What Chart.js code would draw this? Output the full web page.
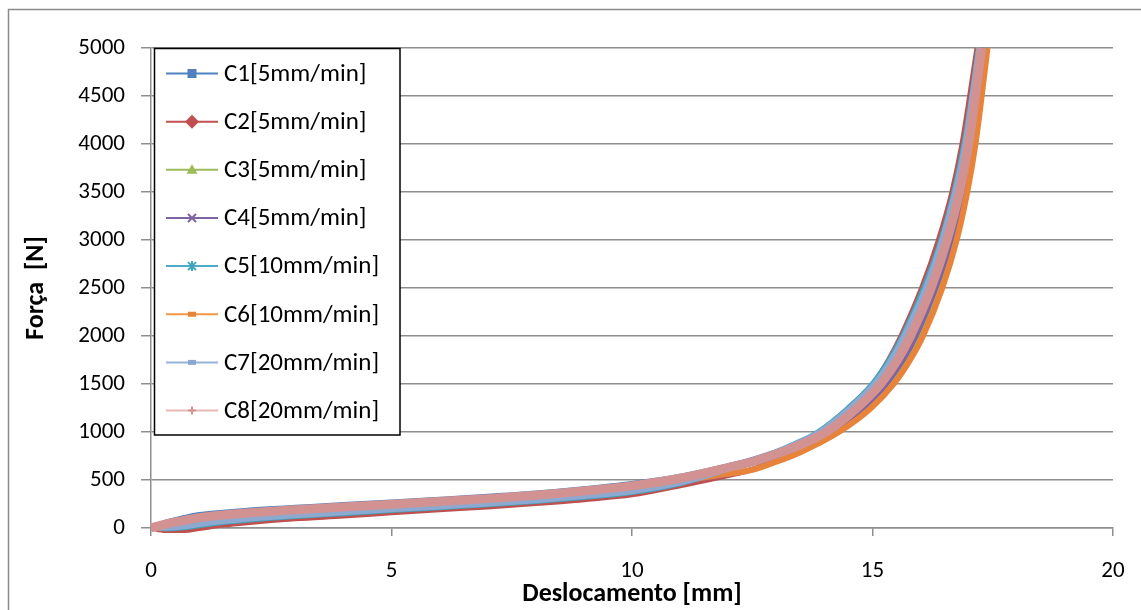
<!DOCTYPE html>
<html>
<head>
<meta charset="utf-8">
<script src="https://cdn.jsdelivr.net/npm/chart.js@4/dist/chart.umd.min.js"></script>
<style>
  html, body { margin: 0; padding: 0; background: #fff; }
  canvas { display: block; }
</style>
</head>
<body>
<canvas id="forceChart" width="1141" height="610"></canvas>
<script>
// displacement [mm] shared by the flat part of every curve
const flatDisp = [0, 0.3, 0.7, 1, 1.5, 2, 3, 4, 5, 6, 7, 8, 9, 10, 11, 12, 12.5, 13, 13.5];
// force [N] shared by the steep part of every curve
const steepForce = [1000, 1250, 1500, 1750, 2000, 2500, 3000, 3500, 4000, 4500, 5000];

const c1Force = [0, 60, 110, 140, 165, 185, 215, 245, 272, 300, 330, 365, 410, 465, 540, 650, 715, 795, 885];
const c1Disp = [13.94, 14.58, 15.07, 15.42, 15.70, 16.14, 16.48, 16.75, 16.95, 17.10, 17.23];
const c2Force = [0, -25, -25, -5, 30, 55, 95, 125, 158, 190, 220, 255, 295, 345, 440, 545, 610, 730, 865];
const c2Disp = [13.96, 14.55, 15.01, 15.33, 15.59, 16.02, 16.37, 16.65, 16.86, 17.02, 17.17];
const c3Force = [0, 22, 49, 75, 104, 126, 161, 191, 221, 250, 280, 315, 358, 411, 495, 570, 612, 700, 800];
const c3Disp = [14.23, 14.89, 15.37, 15.71, 15.98, 16.39, 16.70, 16.93, 17.10, 17.24, 17.36];
const c4Force = [0, 9, 29, 53, 84, 107, 143, 173, 204, 234, 264, 299, 341, 393, 480, 560, 610, 705, 815];
const c4Disp = [14.16, 14.81, 15.29, 15.64, 15.91, 16.32, 16.64, 16.88, 17.06, 17.20, 17.33];
const c5Force = [0, -8, 2, 24, 57, 81, 119, 149, 181, 212, 242, 277, 318, 369, 460, 610, 700, 795, 905];
const c5Disp = [13.86, 14.49, 14.99, 15.34, 15.62, 16.06, 16.42, 16.69, 16.90, 17.06, 17.20];
const c6Force = [0, 18, 43, 68, 98, 120, 155, 185, 215, 245, 275, 310, 353, 405, 490, 565, 605, 690, 790];
const c6Disp = [14.30, 14.97, 15.44, 15.78, 16.05, 16.45, 16.75, 16.97, 17.14, 17.27, 17.39];
const c7Force = [0, 2, 18, 41, 73, 97, 133, 163, 194, 225, 255, 290, 332, 383, 472, 615, 695, 785, 895];
const c7Disp = [13.91, 14.54, 15.04, 15.39, 15.66, 16.11, 16.45, 16.72, 16.93, 17.08, 17.22];
const c8Force = [0, 41, 80, 108, 135, 156, 189, 219, 247, 276, 306, 341, 385, 439, 518, 630, 690, 770, 865];
const c8Disp = [14.04, 14.68, 15.17, 15.52, 15.79, 16.22, 16.55, 16.81, 17.00, 17.14, 17.27];

const seriesNames = ['C1[5mm/min]', 'C2[5mm/min]', 'C3[5mm/min]', 'C4[5mm/min]',
    'C5[10mm/min]', 'C6[10mm/min]', 'C7[20mm/min]', 'C8[20mm/min]'];
const flatForces = [c1Force, c2Force, c3Force, c4Force, c5Force, c6Force, c7Force, c8Force];
const steepDisps = [c1Disp, c2Disp, c3Disp, c4Disp, c5Disp, c6Disp, c7Disp, c8Disp];

const lineColors = ['#4F81BD', '#C0504D', '#9BBB59', '#8064A2', '#4BACC6', '#F79646', '#95B3D7', '#E6B9B8'];
const markColors = ['#4F81BD', '#C0504D', '#9BBB59', '#8064A2', '#3FA3BD', '#E8833A', '#8EA9D0', '#D39292'];
const markers = ['square', 'diamond', 'triangle', 'cross', 'star', 'dash', 'dash', 'plus'];
const widths = [5, 5, 5, 5, 5, 6, 6, 9];

const FONT = 'Carlito, Lato, "Open Sans", sans-serif';
const GRID = '#8e8e8e';

function buildPoints(i) {
    const pts = flatDisp.map((x, k) => ({ x, y: flatForces[i][k] }));
    steepForce.forEach((f, k) => pts.push({ x: steepDisps[i][k], y: f }));
    return pts;
}

function drawMarker(ctx, type, x, y, color) {
    ctx.save();
    ctx.fillStyle = color;
    ctx.strokeStyle = color;
    ctx.lineWidth = 2;
    ctx.beginPath();
    if (type === 'square') {
        ctx.fillRect(x - 4.5, y - 4.5, 9, 9);
    } else if (type === 'diamond') {
        ctx.moveTo(x, y - 7); ctx.lineTo(x + 7, y); ctx.lineTo(x, y + 7); ctx.lineTo(x - 7, y);
        ctx.closePath(); ctx.fill();
    } else if (type === 'triangle') {
        ctx.moveTo(x, y - 5.5); ctx.lineTo(x + 5.5, y + 4); ctx.lineTo(x - 5.5, y + 4);
        ctx.closePath(); ctx.fill();
    } else if (type === 'cross') {
        ctx.moveTo(x - 4, y - 4); ctx.lineTo(x + 4, y + 4);
        ctx.moveTo(x + 4, y - 4); ctx.lineTo(x - 4, y + 4); ctx.stroke();
    } else if (type === 'star') {
        ctx.moveTo(x - 4, y - 4); ctx.lineTo(x + 4, y + 4);
        ctx.moveTo(x + 4, y - 4); ctx.lineTo(x - 4, y + 4);
        ctx.moveTo(x, y - 5); ctx.lineTo(x, y + 5); ctx.stroke();
    } else if (type === 'dash') {
        ctx.fillRect(x - 4, y - 2.5, 8, 5);
    } else if (type === 'plus') {
        ctx.moveTo(x - 4, y); ctx.lineTo(x + 4, y);
        ctx.moveTo(x, y - 4); ctx.lineTo(x, y + 4); ctx.stroke();
    }
    ctx.restore();
}

// Excel style legend: line + marker, boxed, drawn over the plot
const boxLegend = {
    id: 'boxLegend',
    afterDraw(chart) {
        const ctx = chart.ctx;
        ctx.save();
        ctx.fillStyle = '#fff';
        ctx.fillRect(154, 48, 246, 387);
        ctx.strokeStyle = '#000';
        ctx.lineWidth = 1.5;
        ctx.strokeRect(154.5, 48.5, 245.5, 386.5);
        ctx.font = '25px ' + FONT;
        ctx.textBaseline = 'middle';
        seriesNames.forEach((name, i) => {
            const y = 73.5 + i * 48.15;
            ctx.strokeStyle = lineColors[i];
            ctx.lineWidth = 2;
            ctx.beginPath();
            ctx.moveTo(166, y);
            ctx.lineTo(218, y);
            ctx.stroke();
            drawMarker(ctx, markers[i], 192, y, markColors[i]);
            ctx.fillStyle = '#000';
            ctx.fillText(name, 224, y + 1);
        });
        ctx.restore();
    }
};

const frame = {
    id: 'frame',
    beforeDraw(chart) {
        const ctx = chart.ctx;
        ctx.save();
        ctx.strokeStyle = '#8a8a8a';
        ctx.lineWidth = 1.5;
        ctx.strokeRect(8.5, 9.5, 1140, 610);
        ctx.restore();
    }
};

new Chart(document.getElementById('forceChart'), {
    type: 'line',
    data: {
        datasets: seriesNames.map((name, i) => ({
            label: name,
            data: buildPoints(i),
            borderColor: markColors[i],
            backgroundColor: markColors[i],
            borderWidth: widths[i],
            pointRadius: 0,
            cubicInterpolationMode: 'monotone',
            clip: false,
            order: 8 - i
        }))
    },
    options: {
        responsive: false,
        animation: false,
        layout: { padding: { top: 48, right: 28, left: 0, bottom: 0 } },
        plugins: { legend: { display: false }, tooltip: { enabled: false } },
        scales: {
            x: {
                type: 'linear',
                min: 0,
                max: 20,
                ticks: { stepSize: 5, padding: 21, color: '#000', maxRotation: 0, font: { family: FONT, size: 23 } },
                grid: { drawOnChartArea: false, tickLength: 8, color: GRID, lineWidth: 1.5 },
                border: { color: GRID, width: 1.5 },
                title: {
                    display: true,
                    text: 'Deslocamento [mm]',
                    color: '#000',
                    font: { family: FONT, size: 26, weight: 'bold' },
                    padding: { top: 0, bottom: 0 }
                },
                afterFit: (scale) => {
                    scale.height = 82;
                    scale.paddingLeft = 0;
                    scale.paddingRight = 0;
                }
            },
            y: {
                min: 0,
                max: 5000,
                ticks: { stepSize: 500, padding: 16, color: '#000', font: { family: FONT, size: 23 }, callback: (v) => String(v) },
                grid: { tickLength: 10, color: GRID, lineWidth: 1.5 },
                border: { color: GRID, width: 1.5 },
                title: {
                    display: true,
                    text: 'Força \u00A0[N]',
                    color: '#000',
                    font: { family: FONT, size: 26, weight: 'bold' },
                    padding: { top: 21, bottom: 0 }
                },
                afterFit: (scale) => { scale.width = 151; }
            }
        }
    },
    plugins: [frame, boxLegend]
});
</script>
</body>
</html>
